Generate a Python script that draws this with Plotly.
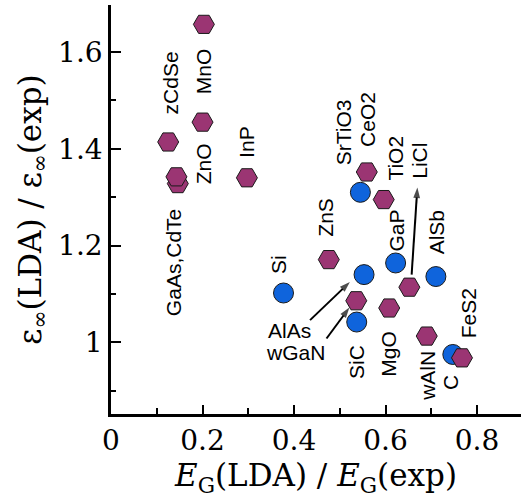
import plotly.graph_objects as go

# x: E_G(LDA)/E_G(exp), y: eps_inf(LDA)/eps_inf(exp)
circle_names = ["Si", "SrTiO3", "AlAs", "GaP", "AlSb", "SiC", "C"]
circle_gap = [0.377, 0.545, 0.553, 0.622, 0.710, 0.537, 0.747]
circle_eps = [1.102, 1.310, 1.140, 1.164, 1.136, 1.042, 0.975]

hex_names = ["MnO", "zCdSe", "ZnO", "CdTe", "GaAs", "InP", "CeO2", "TiO2",
             "ZnS", "LiCl", "wGaN", "MgO", "wAlN", "FeS2"]
hex_gap = [0.203, 0.125, 0.200, 0.146, 0.143, 0.297, 0.559, 0.596,
           0.476, 0.652, 0.536, 0.608, 0.690, 0.767]
hex_eps = [1.657, 1.414, 1.455, 1.328, 1.342, 1.340, 1.352, 1.295,
           1.171, 1.114, 1.086, 1.071, 1.013, 0.968]

x_ticks = [0, 0.2, 0.4, 0.6, 0.8]
y_ticks = [1.0, 1.2, 1.4, 1.6]

# Where each material name is written (data coordinates) and its rotation
label_spots = [
    ("MnO", 0.202, 1.561, -90), ("zCdSe", 0.130, 1.536, -90),
    ("ZnO", 0.201, 1.370, -90), ("InP", 0.297, 1.414, -90),
    ("GaAs,CdTe", 0.138, 1.164, -90), ("SrTiO3", 0.507, 1.434, -90),
    ("CeO2", 0.561, 1.461, -90), ("TiO2", 0.621, 1.380, -90),
    ("LiCl", 0.675, 1.375, -90), ("ZnS", 0.468, 1.258, -90),
    ("GaP", 0.625, 1.231, -90), ("AlSb", 0.711, 1.228, -90),
    ("Si", 0.367, 1.162, -90), ("SiC", 0.536, 0.960, -90),
    ("MgO", 0.607, 0.976, -90), ("wAlN", 0.693, 0.931, -90),
    ("C", 0.741, 0.916, -90), ("FeS2", 0.780, 1.060, -90),
    ("AlAs", 0.389, 1.025, 0), ("wGaN", 0.404, 0.980, 0),
]

# Pointer arrows: (tail x, tail y, head x, head y)
pointers = [
    (0.435, 1.046, 0.522, 1.1246),   # AlAs
    (0.471, 1.008, 0.521, 1.072),    # wGaN
    (0.657, 1.140, 0.6695, 1.320),   # LiCl
]

serif = "DejaVu Serif"
sans = "Liberation Sans"

fig = go.Figure()

for tx, ty, hx, hy in pointers:
    fig.add_trace(go.Scatter(
        x=[tx, hx], y=[ty, hy], mode="lines+markers",
        line=dict(color="black", width=2),
        marker=dict(symbol="arrow", size=[0, 11], angleref="previous",
                    color="black", line=dict(width=0)),
        showlegend=False, hoverinfo="skip",
    ))

fig.add_trace(go.Scatter(
    x=circle_gap, y=circle_eps, mode="markers", text=circle_names,
    marker=dict(symbol="circle", size=20, color="#0F64DC",
                line=dict(color="#1a1a1a", width=1)),
    showlegend=False, hoverinfo="text",
))
fig.add_trace(go.Scatter(
    x=hex_gap, y=hex_eps, mode="markers", text=hex_names,
    marker=dict(symbol="hexagon2", size=21, color="#9B3573",
                line=dict(color="#1a1a1a", width=1)),
    showlegend=False, hoverinfo="text",
))

annotations = []
for text, lx, ly, ang in label_spots:
    annotations.append(dict(
        x=lx, y=ly, xref="x", yref="y", text=text, textangle=ang,
        showarrow=False, xanchor="center", yanchor="middle",
        font=dict(family=sans, size=21, color="black"),
    ))

axis_common = dict(
    showline=True, linecolor="black", linewidth=2.5, mirror=False,
    showgrid=False, zeroline=False, ticks="inside", tickcolor="black",
    tickwidth=2, tickfont=dict(family=serif, size=28, color="black"),
)

fig.update_layout(
    width=521, height=500,
    margin=dict(l=111, r=0, t=5, b=86),
    paper_bgcolor="white", plot_bgcolor="white",
    annotations=annotations,
    xaxis=dict(
        range=[0, 0.896], tickvals=x_ticks,
        ticktext=[f"{v:g}" for v in x_ticks], ticklen=9,
        minor=dict(ticks="inside", ticklen=6, dtick=0.1, tick0=0,
                   tickcolor="black", tickwidth=2),
        title=dict(text="<i>E</i><sub>G</sub>(LDA) / <i>E</i><sub>G</sub>(exp)",
                   font=dict(family=serif, size=31, color="black"),
                   standoff=4),
        **axis_common,
    ),
    yaxis=dict(
        range=[0.852, 1.697], tickvals=y_ticks,
        ticktext=[f"{v:g}" for v in y_ticks], ticklen=10,
        minor=dict(ticks="inside", ticklen=5, dtick=0.1, tick0=0,
                   tickcolor="black", tickwidth=2),
        title=dict(text="ε<sub>∞</sub>(LDA) / ε<sub>∞</sub>(exp)",
                   font=dict(family=serif, size=31, color="black"),
                   standoff=8),
        **axis_common,
    ),
)

fig.write_html("out.html")
